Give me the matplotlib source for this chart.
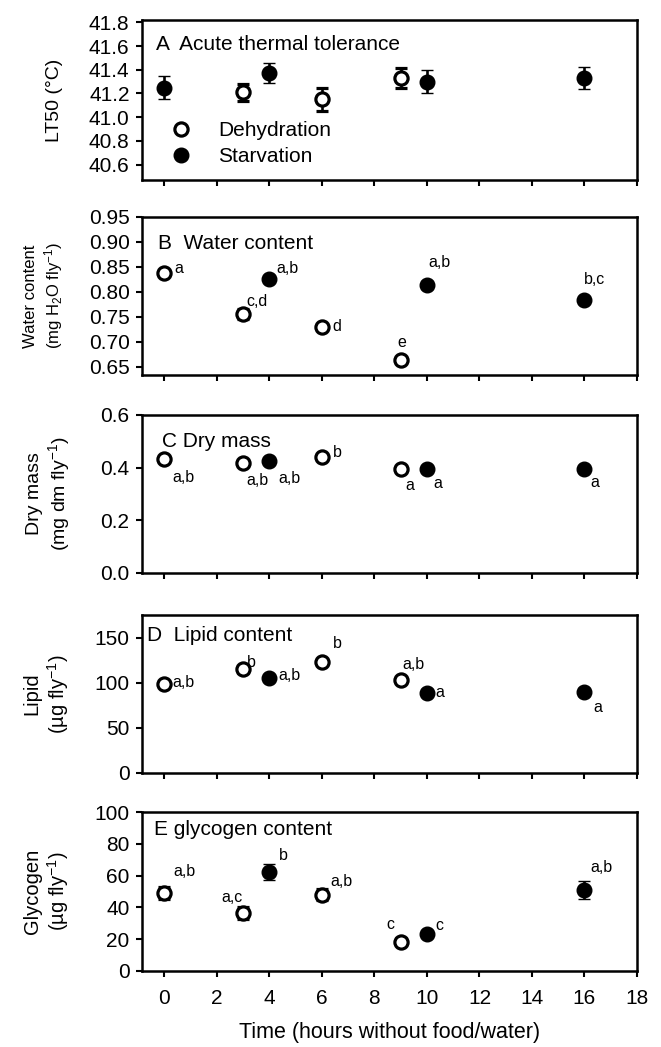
import matplotlib
matplotlib.use('Agg')
import matplotlib.pyplot as plt

plt.rcParams['font.family'] = ['Liberation Sans', 'DejaVu Sans']
plt.rcParams['mathtext.fontset'] = 'custom'
plt.rcParams['mathtext.rm'] = 'Liberation Sans'
plt.rcParams['mathtext.it'] = 'Liberation Sans:italic'
plt.rcParams['mathtext.default'] = 'regular'

# A - acute thermal tolerance (time 0 plotted as starvation)
a_dehyd_t = [3, 6, 9]
a_dehyd = [41.21, 41.15, 41.33]
a_dehyd_err = [0.07, 0.10, 0.087]
a_starv_t = [0, 4, 10, 16]
a_starv = [41.25, 41.37, 41.30, 41.33]
a_starv_err = [0.094, 0.085, 0.10, 0.093]

# B-E share the same time points
dehyd_t = [0, 3, 6, 9]
starv_t = [4, 10, 16]

water_dehyd = [0.838, 0.756, 0.729, 0.663]
water_dehyd_err = [0.005, 0.010, 0.004, 0.005]
water_starv = [0.826, 0.813, 0.783]
water_starv_err = [0.005, 0.008, 0.004]
water_dehyd_lbl = ['a', 'c,d', 'd', 'e']
water_starv_lbl = ['a,b', 'a,b', 'b,c']

dry_dehyd = [0.432, 0.416, 0.439, 0.394]
dry_dehyd_err = [0.006, 0.006, 0.006, 0.006]
dry_starv = [0.426, 0.394, 0.394]
dry_starv_err = [0.006, 0.006, 0.006]
dry_dehyd_lbl = ['a,b', 'a,b', 'b', 'a']
dry_starv_lbl = ['a,b', 'a', 'a']

lipid_dehyd = [98.8, 115, 123, 103]
lipid_dehyd_err = [3, 4, 3, 3]
lipid_starv = [105, 89, 89.6]
lipid_starv_err = [3, 4, 4]
lipid_dehyd_lbl = ['a,b', 'b', 'b', 'a,b']
lipid_starv_lbl = ['a,b', 'a', 'a']

glyc_dehyd = [49, 36.5, 48, 18.5]
glyc_dehyd_err = [4, 3.5, 3.5, 2]
glyc_starv = [62.5, 23.4, 51]
glyc_starv_err = [5, 2, 5.5]
glyc_dehyd_lbl = ['a,b', 'a,c', 'a,b', 'c']
glyc_starv_lbl = ['b', 'c', 'a,b']

# letter offsets in pixels (dx, dy) from the marker centre
water_dehyd_off = [(14, 4), (14, 12), (15, 1), (1, 18)]
water_starv_off = [(18, 10), (13, 23), (10, 21)]
dry_dehyd_off = [(19, -18), (14, -17), (15, 5), (9, -16)]
dry_starv_off = [(20, -18), (11, -14), (10, -13)]
lipid_dehyd_off = [(19, 1), (8, 7), (15, 18), (13, 16)]
lipid_starv_off = [(20, 3), (13, 0), (13, -15)]
glyc_dehyd_off = [(20, 22), (-11, 15), (20, 13), (-10, 17)]
glyc_starv_off = [(14, 16), (12, 8), (17, 22)]

W, H = 661, 1047
fig = plt.figure(figsize=(W / 100, H / 100), dpi=100)

left, right = 142, 637
boxes = [(20, 180), (217, 375), (415, 573), (615, 773), (812, 971)]
axes = []
for top, bot in boxes:
    ax = fig.add_axes([left / W, 1 - bot / H, (right - left) / W, (bot - top) / H])
    axes.append(ax)

open_kw = dict(fmt='o', mfc='white', mec='black', mew=2.3, ms=9.5, ecolor='black',
               elinewidth=1.9, capsize=4.3, capthick=1.9, zorder=3)
fill_kw = dict(fmt='o', mfc='black', mec='black', mew=1, ms=10.5, ecolor='black',
               elinewidth=1.9, capsize=4.3, capthick=1.9, zorder=3)


def letters(ax, xs, ys, labels, offs):
    for x, y, s, (dx, dy) in zip(xs, ys, labels, offs):
        ax.annotate(s, (x, y), xytext=(dx * 0.72, dy * 0.72), textcoords='offset points',
                    ha='center', va='center', fontsize=11.5)


# A
ax = axes[0]
h_open = ax.errorbar(a_dehyd_t, a_dehyd, yerr=a_dehyd_err, **open_kw)
h_fill = ax.errorbar(a_starv_t, a_starv, yerr=a_starv_err, **fill_kw)
ax.set_ylim(40.47, 41.82)
ax.set_yticks([40.6, 40.8, 41.0, 41.2, 41.4, 41.6, 41.8])
ax.set_yticklabels(['%.1f' % v for v in ax.get_yticks()])
ax.text(0.028, 0.844, 'A  Acute thermal tolerance', transform=ax.transAxes,
        ha='left', va='center', fontsize=15)
ax.legend([h_open[0], h_fill[0]], ['Dehydration', 'Starvation'], loc='upper left',
          bbox_to_anchor=(0.057, 0.37), frameon=False, fontsize=15, handlelength=1.0,
          handletextpad=1.3, labelspacing=0.35, borderpad=0, borderaxespad=0, numpoints=1)
ax.set_ylabel('LT50 (\u00b0C)', fontsize=14, va='center')
ax.yaxis.set_label_coords(-0.176, 0.5)

# B
ax = axes[1]
ax.errorbar(dehyd_t, water_dehyd, yerr=water_dehyd_err, **open_kw)
ax.errorbar(starv_t, water_starv, yerr=water_starv_err, **fill_kw)
letters(ax, dehyd_t, water_dehyd, water_dehyd_lbl, water_dehyd_off)
letters(ax, starv_t, water_starv, water_starv_lbl, water_starv_off)
ax.set_ylim(0.633, 0.95)
ax.set_yticks([0.65, 0.70, 0.75, 0.80, 0.85, 0.90, 0.95])
ax.set_yticklabels(['%.2f' % v for v in ax.get_yticks()])
ax.text(0.032, 0.835, 'B  Water content', transform=ax.transAxes,
        ha='left', va='center', fontsize=15)
ax.set_ylabel('Water content\n(mg H$_2$O fly$^{-1}$)', fontsize=12, va='center',
              linespacing=1.2)
ax.yaxis.set_label_coords(-0.198, 0.5)

# C
ax = axes[2]
ax.errorbar(dehyd_t, dry_dehyd, yerr=dry_dehyd_err, **open_kw)
ax.errorbar(starv_t, dry_starv, yerr=dry_starv_err, **fill_kw)
letters(ax, dehyd_t, dry_dehyd, dry_dehyd_lbl, dry_dehyd_off)
letters(ax, starv_t, dry_starv, dry_starv_lbl, dry_starv_off)
ax.set_ylim(0, 0.6)
ax.set_yticks([0.0, 0.2, 0.4, 0.6])
ax.set_yticklabels(['%.1f' % v for v in ax.get_yticks()])
ax.text(0.041, 0.831, 'C Dry mass', transform=ax.transAxes,
        ha='left', va='center', fontsize=15)
ax.set_ylabel('Dry mass\n(mg dm fly$^{-1}$)', fontsize=14, va='center')
ax.yaxis.set_label_coords(-0.188, 0.5)

# D
ax = axes[3]
ax.errorbar(dehyd_t, lipid_dehyd, yerr=lipid_dehyd_err, **open_kw)
ax.errorbar(starv_t, lipid_starv, yerr=lipid_starv_err, **fill_kw)
letters(ax, dehyd_t, lipid_dehyd, lipid_dehyd_lbl, lipid_dehyd_off)
letters(ax, starv_t, lipid_starv, lipid_starv_lbl, lipid_starv_off)
ax.set_ylim(0, 175)
ax.set_yticks([0, 50, 100, 150])
ax.text(0.011, 0.873, 'D  Lipid content', transform=ax.transAxes,
        ha='left', va='center', fontsize=15)
ax.set_ylabel('Lipid\n(\u00b5g fly$^{-1}$)', fontsize=14.5, va='center')
ax.yaxis.set_label_coords(-0.193, 0.5)

# E
ax = axes[4]
ax.errorbar(dehyd_t, glyc_dehyd, yerr=glyc_dehyd_err, **open_kw)
ax.errorbar(starv_t, glyc_starv, yerr=glyc_starv_err, **fill_kw)
letters(ax, dehyd_t, glyc_dehyd, glyc_dehyd_lbl, glyc_dehyd_off)
letters(ax, starv_t, glyc_starv, glyc_starv_lbl, glyc_starv_off)
ax.set_ylim(0, 100)
ax.set_yticks([0, 20, 40, 60, 80, 100])
ax.text(0.024, 0.893, 'E glycogen content', transform=ax.transAxes,
        ha='left', va='center', fontsize=15)
ax.set_ylabel('Glycogen\n(\u00b5g fly$^{-1}$)', fontsize=14.5, va='center')
ax.yaxis.set_label_coords(-0.192, 0.5)
ax.set_xlabel('Time (hours without food/water)', fontsize=15.5, labelpad=10)

for i, ax in enumerate(axes):
    ax.set_xlim(-0.85, 18)
    ax.set_xticks(range(0, 19, 2))
    if i < 4:
        ax.set_xticklabels([])
    for sp in ax.spines.values():
        sp.set_linewidth(1.8)
    ax.tick_params(direction='out', length=4, width=1.5, labelsize=15)
    ax.tick_params(axis='y', pad=5)
    ax.tick_params(axis='x', pad=9)

fig.savefig('out.png', dpi=100)
